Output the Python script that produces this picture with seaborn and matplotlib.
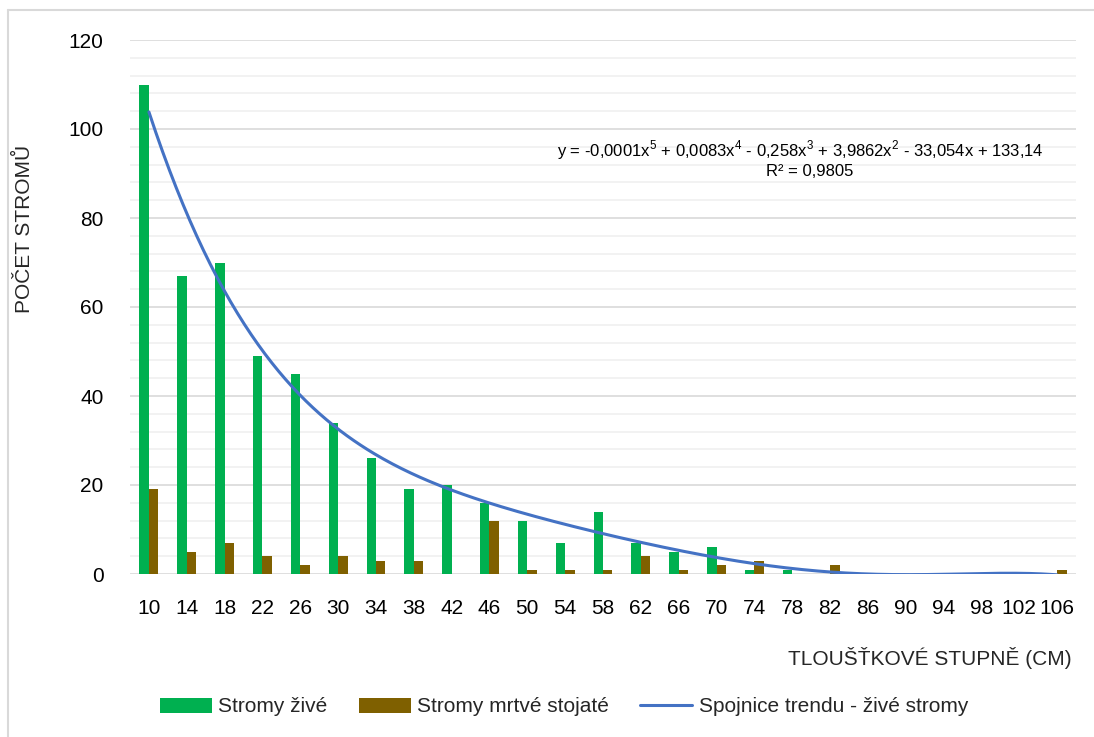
import numpy as np
import pandas as pd
import matplotlib
matplotlib.use("Agg")
import matplotlib.pyplot as plt
from matplotlib.patches import Patch
from matplotlib.lines import Line2D
import seaborn as sns

# ---- data ----
categories = ["10", "14", "18", "22", "26", "30", "34", "38", "42", "46", "50", "54",
              "58", "62", "66", "70", "74", "78", "82", "86", "90", "94", "98", "102", "106"]
live = [110, 67, 70, 49, 45, 34, 26, 19, 20, 16, 12, 7, 14, 7, 5, 6, 1, 1, 0, 0, 0, 0, 0, 0, 0]
dead = [19, 5, 7, 4, 2, 4, 3, 3, 0, 12, 1, 1, 1, 4, 1, 2, 3, 0, 2, 0, 0, 0, 0, 0, 1]
series_names = ["Stromy živé", "Stromy mrtvé stojaté"]
trend_name = "Spojnice trendu - živé stromy"
equation = "y = -0,0001x$^5$ + 0,0083x$^4$ - 0,258x$^3$ + 3,9862x$^2$ - 33,054x + 133,14"
r2_text = "R² = 0,9805"
y_ticks = [0, 20, 40, 60, 80, 100, 120]

fam = "Liberation Sans"
fs_big, fs_small = 15, 12

sns.set_theme(style="white")
plt.rcParams["font.family"] = [fam, "DejaVu Sans"]
plt.rcParams["mathtext.fontset"] = "custom"
plt.rcParams["mathtext.rm"] = fam

green = "#00B050"
brown = "#7F6000"
blue = "#4472C4"

n = len(categories)
df = pd.DataFrame({
    "cat": categories * 2,
    "val": live + dead,
    "series": [series_names[0]] * n + [series_names[1]] * n,
})

fig = plt.figure(figsize=(10.94, 7.37), dpi=100)
W, H = 1094, 737
ax = fig.add_axes([130 / W, 1 - 574 / H, (1076 - 130) / W, (574 - 40) / H])

# gridlines
for v in range(0, 121, 4):
    if v % 20 == 0:
        ax.axhline(v, color="#d9d9d9", lw=1.2, zorder=0)
    else:
        ax.axhline(v, color="#f0f0f0", lw=1.2, zorder=0)

sns.barplot(data=df, x="cat", y="val", hue="series", order=categories,
            hue_order=series_names, palette=[green, brown], width=0.5,
            saturation=1, ax=ax, legend=False, zorder=2, linewidth=0)

# polynomial trend line fitted to live trees (order 5, x = 1..n)
xi = np.arange(1, n + 1)
coef = np.polyfit(xi, live, 5)
xs = np.linspace(1, n, 400)
ys = np.polyval(coef, xs)
ax.plot(xs - 1, ys, color=blue, lw=2.2, zorder=3, solid_capstyle="round")

ax.set_xlim(-0.5, n - 0.5)
ax.set_ylim(0, 120)
ax.set_yticks(y_ticks)
ax.set_yticklabels([str(t) for t in y_ticks])
for s in ax.spines.values():
    s.set_visible(False)
ax.tick_params(axis="both", length=0, labelsize=fs_big, colors="black")
ax.tick_params(axis="x", pad=18)
ax.tick_params(axis="y", pad=19)
ax.set_xlabel("")
ax.set_ylabel("")

# equation
fig.text(800 / W, 1 - 150 / H, equation, ha="center", va="center",
         fontsize=fs_small, color="black")
fig.text(810 / W, 1 - 172 / H, r2_text, ha="center", va="center",
         fontsize=fs_small, color="black")

# axis titles
fig.text(1072 / W, 1 - 658 / H, "TLOUŠŤKOVÉ STUPNĚ (CM)", ha="right", va="center",
         fontsize=fs_big)
fig.text(24 / W, 1 - 229 / H, "POČET STROMŮ", ha="center", va="center",
         rotation=90, fontsize=fs_big)

# legend
handles = [Patch(facecolor=green, edgecolor="none"),
           Patch(facecolor=brown, edgecolor="none"),
           Line2D([0], [0], color=blue, lw=2.2)]
fig.legend(handles, series_names + [trend_name], loc="center",
           bbox_to_anchor=(564 / W, 1 - 707 / H), ncol=3, frameon=False,
           fontsize=fs_big, handlelength=2.5, handleheight=0.75,
           handletextpad=0.3, columnspacing=1.5)

# chart border (top & left visible)
fig.add_artist(Line2D([8 / W, 1], [1 - 10 / H, 1 - 10 / H], color="#d9d9d9", lw=1.5,
                      transform=fig.transFigure))
fig.add_artist(Line2D([8 / W, 8 / W], [0, 1 - 10 / H], color="#d9d9d9", lw=1.5,
                      transform=fig.transFigure))

fig.savefig("out.png", dpi=100, facecolor="white")
